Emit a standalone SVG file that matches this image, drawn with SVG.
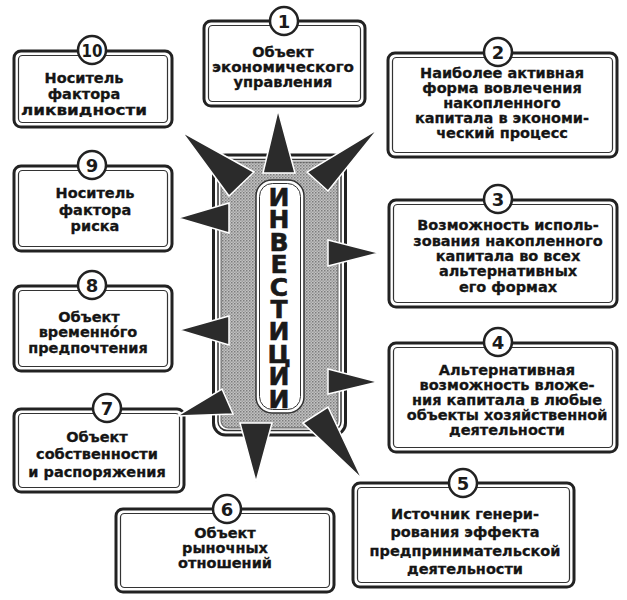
<svg xmlns="http://www.w3.org/2000/svg" width="627" height="600" viewBox="0 0 627 600">
<defs>
<pattern id="ht" width="3" height="3" patternUnits="userSpaceOnUse"><rect width="3" height="3" fill="#c2c2c2"/><rect width="1.5" height="1.5" fill="#7c7c7c"/><rect x="1.5" y="1.5" width="1.5" height="1.5" fill="#9e9e9e"/></pattern>
</defs>
<style>
.ob{fill:#fff;stroke:#222;stroke-width:3}
.ib{fill:none;stroke:#333;stroke-width:1.2}
.nc{fill:#fff;stroke:#222;stroke-width:2.5}
.t{font-family:"DejaVu Sans",sans-serif;font-weight:bold;font-size:14.5px;fill:#151515;stroke:#151515;stroke-width:0.3;text-anchor:middle}
.n{font-family:"DejaVu Sans",sans-serif;font-weight:bold;font-size:18px;fill:#1a1a1a;text-anchor:middle}
.c{font-family:"DejaVu Sans",sans-serif;font-weight:bold;font-size:25px;fill:#1a1a1a;stroke:#1a1a1a;stroke-width:0.6;writing-mode:vertical-rl;text-orientation:upright;letter-spacing:-6.6px}
.sp{fill:#2b2b2b;stroke:#fff;stroke-width:1.5;stroke-linejoin:miter}
</style>
<rect width="627" height="600" fill="#fff"/>
<g id="center">
<rect x="213.5" y="155" width="132" height="280" rx="12" fill="#fff" stroke="#222" stroke-width="3"/>
<rect x="218" y="159.5" width="123" height="271" rx="9" fill="none" stroke="#333" stroke-width="1.5"/>
<rect x="221" y="162" width="117" height="266" rx="7" fill="url(#ht)" stroke="#444" stroke-width="0.8"/>
<rect x="256" y="180" width="48" height="233" rx="16" fill="#fff" stroke="#333" stroke-width="1.5"/>
<rect x="259.5" y="183.5" width="41" height="226" rx="13" fill="none" stroke="#333" stroke-width="1"/>
<text class="c" x="279" y="183">ИНВЕСТИЦИИ</text>
</g>
<g id="n1">
<rect class="ob" x="204" y="21" width="161" height="85" rx="7"/>
<rect class="ib" x="208.5" y="25.5" width="152" height="76" rx="4"/>
<circle class="nc" cx="284" cy="21" r="14"/><text class="n" x="284" y="27.5">1</text>
<text class="t" x="283" y="57">Объект</text>
<text class="t" x="283" y="72" textLength="142" lengthAdjust="spacingAndGlyphs">экономического</text>
<text class="t" x="283" y="87">управления</text>
</g>
<g id="n2">
<rect class="ob" x="388" y="53" width="229" height="104" rx="7"/>
<rect class="ib" x="392.5" y="57.5" width="220" height="95" rx="4"/>
<circle class="nc" cx="498" cy="52" r="14"/><text class="n" x="498" y="58.5">2</text>
<text class="t" x="502" y="78">Наиболее активная</text>
<text class="t" x="502" y="93">форма вовлечения</text>
<text class="t" x="502" y="108">накопленного</text>
<text class="t" x="502" y="123">капитала в экономи-</text>
<text class="t" x="502" y="138">ческий процесс</text>
</g>
<g id="n3">
<rect class="ob" x="389" y="200" width="228" height="107" rx="7"/>
<rect class="ib" x="393.5" y="204.5" width="219" height="98" rx="4"/>
<circle class="nc" cx="498" cy="199" r="14"/><text class="n" x="498" y="205.5">3</text>
<text class="t" x="508" y="230">Возможность исполь-</text>
<text class="t" x="508" y="246">зования накопленного</text>
<text class="t" x="508" y="261">капитала во всех</text>
<text class="t" x="508" y="276">альтернативных</text>
<text class="t" x="508" y="292">его формах</text>
</g>
<g id="n4">
<rect class="ob" x="389" y="343" width="228" height="109" rx="7"/>
<rect class="ib" x="393.5" y="347.5" width="219" height="100" rx="4"/>
<circle class="nc" cx="498" cy="342" r="14"/><text class="n" x="498" y="348.5">4</text>
<text class="t" x="507" y="375">Альтернативная</text>
<text class="t" x="507" y="390">возможность вложе-</text>
<text class="t" x="507" y="405">ния капитала в любые</text>
<text class="t" x="507" y="420">объекты хозяйственной</text>
<text class="t" x="507" y="435">деятельности</text>
</g>
<g id="n5">
<rect class="ob" x="353" y="483" width="221" height="104" rx="7"/>
<rect class="ib" x="357.5" y="487.5" width="212" height="95" rx="4"/>
<circle class="nc" cx="463" cy="483" r="14"/><text class="n" x="463" y="489.5">5</text>
<text class="t" x="465" y="519">Источник генери-</text>
<text class="t" x="465" y="537">рования эффекта</text>
<text class="t" x="465" y="556">предпринимательской</text>
<text class="t" x="465" y="574">деятельности</text>
</g>
<g id="n6">
<rect class="ob" x="116" y="509" width="218" height="83" rx="7"/>
<rect class="ib" x="120.5" y="513.5" width="209" height="74" rx="4"/>
<circle class="nc" cx="227" cy="509" r="14"/><text class="n" x="227" y="515.5">6</text>
<text class="t" x="225" y="538">Объект</text>
<text class="t" x="225" y="553">рыночных</text>
<text class="t" x="225" y="568">отношений</text>
</g>
<g id="n7">
<rect class="ob" x="14" y="409" width="170" height="83" rx="7"/>
<rect class="ib" x="18.5" y="413.5" width="161" height="74" rx="4"/>
<circle class="nc" cx="107" cy="408" r="14"/><text class="n" x="107" y="414.5">7</text>
<text class="t" x="97" y="442">Объект</text>
<text class="t" x="97" y="459">собственности</text>
<text class="t" x="97" y="477">и распоряжения</text>
</g>
<g id="n8">
<rect class="ob" x="14" y="286" width="158" height="85" rx="7"/>
<rect class="ib" x="18.5" y="290.5" width="149" height="76" rx="4"/>
<circle class="nc" cx="92" cy="285" r="14"/><text class="n" x="92" y="291.5">8</text>
<text class="t" x="89" y="322">Объект</text>
<text class="t" x="88" y="337">временно́го</text>
<text class="t" x="88" y="353">предпочтения</text>
</g>
<g id="n9">
<rect class="ob" x="14" y="166" width="158" height="85" rx="7"/>
<rect class="ib" x="18.5" y="170.5" width="149" height="76" rx="4"/>
<circle class="nc" cx="92" cy="165" r="14"/><text class="n" x="92" y="171.5">9</text>
<text class="t" x="95" y="198">Носитель</text>
<text class="t" x="95" y="215">фактора</text>
<text class="t" x="95" y="231">риска</text>
</g>
<g id="n10">
<rect class="ob" x="14" y="51" width="158" height="76" rx="7"/>
<rect class="ib" x="18.5" y="55.5" width="149" height="67" rx="4"/>
<circle class="nc" cx="92" cy="50" r="14"/><text class="n" x="92" y="56.5" textLength="21" lengthAdjust="spacingAndGlyphs">10</text>
<text class="t" x="84" y="83">Носитель</text>
<text class="t" x="84" y="99">фактора</text>
<text class="t" x="84" y="115" textLength="126" lengthAdjust="spacingAndGlyphs">ликвидности</text>
</g>
<g id="connectors">
<polygon class="sp" points="263,173 295,173 278,110"/>
<polygon class="sp" points="307,172 328,191 378,129"/>
<polygon class="sp" points="328,240 328,266 379,253"/>
<polygon class="sp" points="328,369 328,394 378,382"/>
<polygon class="sp" points="303,423 328,407 362,479"/>
<polygon class="sp" points="240,423 272,423 256,482"/>
<polygon class="sp" points="222,389 233,414 177,416"/>
<polygon class="sp" points="229,316 229,345 179,330"/>
<polygon class="sp" points="229,203 229,233 178,218"/>
<polygon class="sp" points="229,196 254,172 182,132"/>
</g>
</svg>
